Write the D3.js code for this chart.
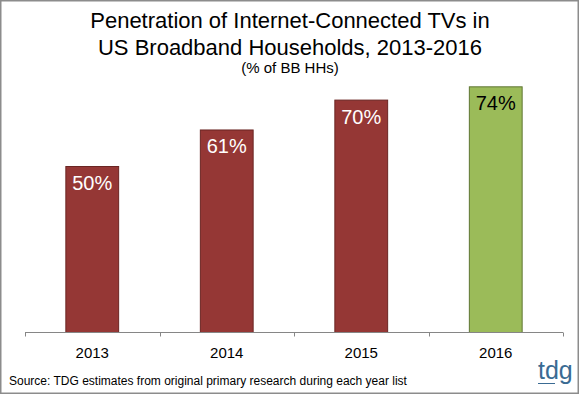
<!DOCTYPE html>
<html><head><meta charset="utf-8">
<script src="https://cdn.jsdelivr.net/npm/d3@7"></script>
<style>html,body{margin:0;padding:0;background:#fff;}svg{display:block;font-family:"Liberation Sans",Arial,sans-serif;}</style>
</head><body>
<svg id="c" width="580" height="395"></svg>
<script>
const years = ["2013", "2014", "2015", "2016"];
const values = [50, 61, 70, 74];
const labels = ["50%", "61%", "70%", "74%"];
const barFill = ["#953735", "#953735", "#953735", "#9BBB59"];
const barStroke = ["#6a2523", "#6a2523", "#6a2523", "#5f7632"];
const labelColor = ["#ffffff", "#ffffff", "#ffffff", "#000000"];
const titleLines = ["Penetration of Internet-Connected TVs in", "US Broadband Households, 2013-2016"];
const subtitle = "(% of BB HHs)";
const source = "Source: TDG estimates from original primary research during each year list";

const svg = d3.select("#c");
svg.append("rect").attr("x", 0.75).attr("y", 0.75).attr("width", 577.5).attr("height", 392.5)
  .attr("fill", "#fff").attr("stroke", "#8c8c8c").attr("stroke-width", 1.5);

const x = d3.scaleBand().domain(years).range([25, 563]).paddingInner(0.6).paddingOuter(0.3);
const y = d3.scaleLinear().domain([0, 100]).range([332, 0]);

svg.selectAll("text.title").data(titleLines).enter().append("text")
  .attr("x", 290).attr("y", (d, i) => 28 + i * 27).attr("text-anchor", "middle")
  .attr("font-size", 22).attr("fill", "#000").text(d => d);
svg.append("text").attr("x", 290).attr("y", 73).attr("text-anchor", "middle")
  .attr("font-size", 15).attr("fill", "#000").text(subtitle);

svg.selectAll("rect.bar").data(values).enter().append("rect")
  .attr("x", (d, i) => x(years[i]) + 0.5).attr("width", x.bandwidth() - 1)
  .attr("y", d => y(d) + 0.5).attr("height", d => y(0) - y(d))
  .attr("fill", (d, i) => barFill[i]).attr("stroke", (d, i) => barStroke[i]).attr("stroke-width", 1);

svg.selectAll("text.lab").data(values).enter().append("text")
  .attr("x", (d, i) => x(years[i]) + x.bandwidth() / 2).attr("y", d => y(d) + 24)
  .attr("text-anchor", "middle").attr("font-size", 20).attr("fill", (d, i) => labelColor[i])
  .text((d, i) => labels[i]);

const xa = d3.axisBottom(x).tickSize(0).tickPadding(0).tickFormat(() => "");
const axisG = svg.append("g").attr("transform", "translate(0,332.5)").call(xa);
axisG.select(".domain").attr("stroke", "#868686").attr("d", "M25,0H563");
const step = x.step();
const bounds = d3.range(years.length + 1).map(i => 25 + i * step);
axisG.selectAll("line.tk").data(bounds).enter().append("line")
  .attr("x1", d => Math.round(d) + 0.5).attr("x2", d => Math.round(d) + 0.5)
  .attr("y1", 0).attr("y2", 4).attr("stroke", "#868686");
svg.selectAll("text.yr").data(years).enter().append("text")
  .attr("x", d => x(d) + x.bandwidth() / 2).attr("y", 358).attr("text-anchor", "middle")
  .attr("font-size", 15).attr("fill", "#000").text(d => d);

svg.append("text").attr("x", 9).attr("y", 385).attr("font-size", 12).attr("fill", "#000").text(source);

svg.append("text").attr("x", 538).attr("y", 379).attr("font-size", 25).attr("fill", "#3a6b93").text("tdg");
svg.append("line").attr("x1", 538).attr("x2", 555).attr("y1", 383.5).attr("y2", 383.5)
  .attr("stroke", "#3a6b93").attr("stroke-width", 1);
</script>
</body></html>
